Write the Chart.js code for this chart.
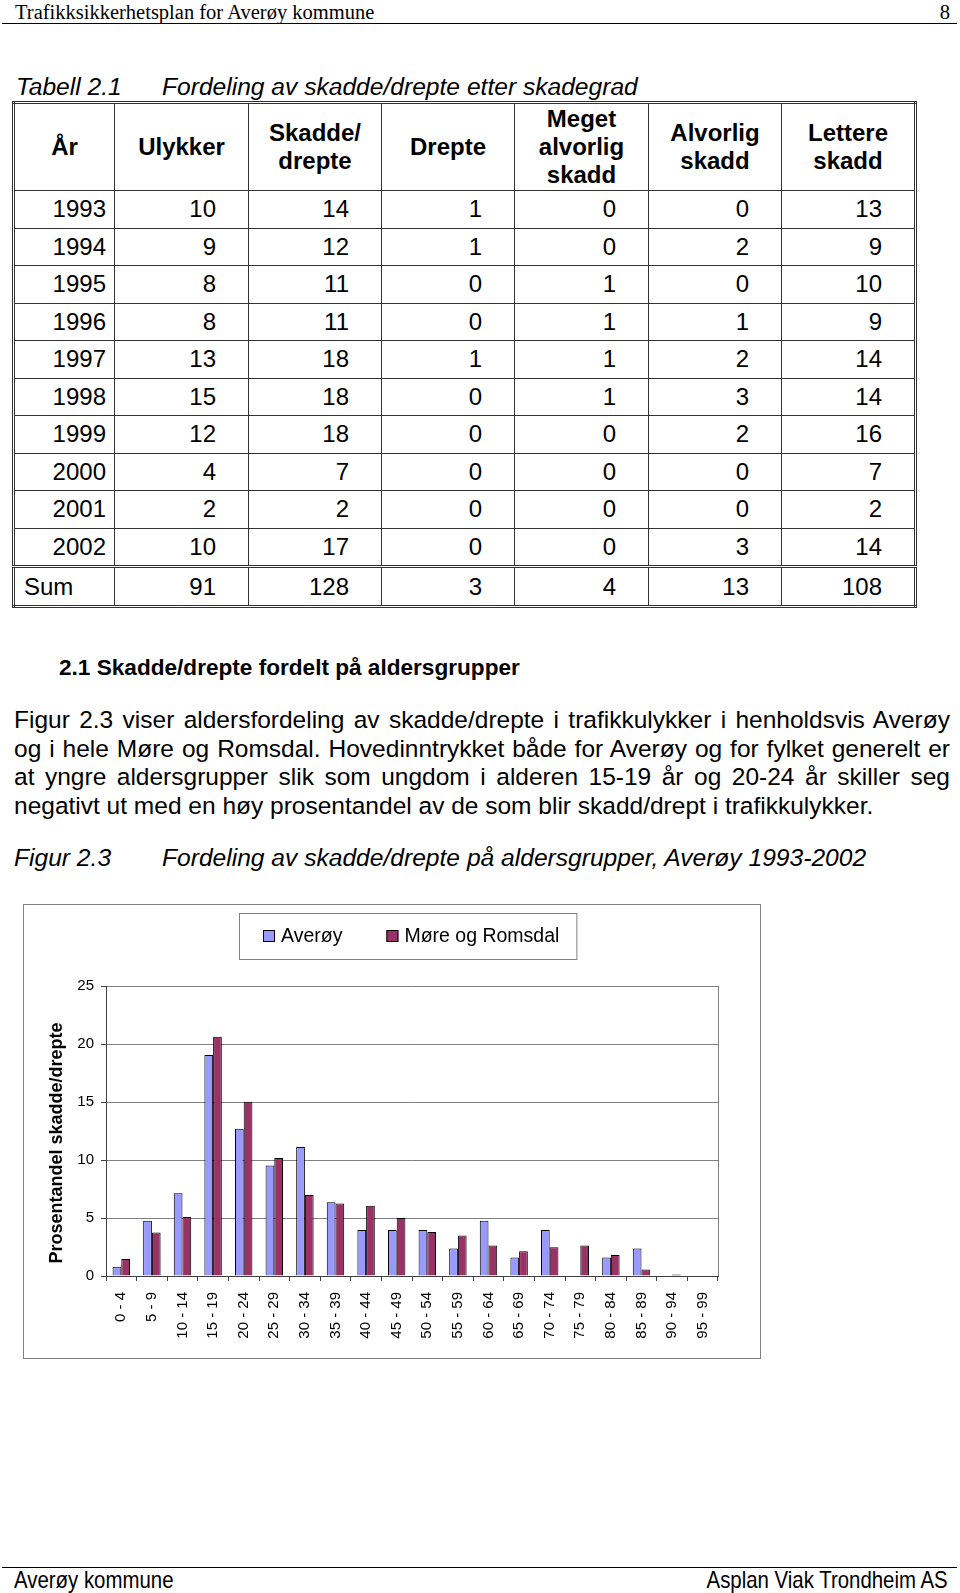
<!DOCTYPE html>
<html lang="no">
<head>
<meta charset="utf-8">
<title>Trafikksikkerhetsplan for Averøy kommune</title>
<script src="https://cdn.jsdelivr.net/npm/chart.js@4/dist/chart.umd.min.js"></script>
<style>
body { margin:0; width:960px; height:1593px; position:relative; background:#fff; color:#000;
       font-family:"Liberation Sans", Arial, sans-serif; overflow:hidden; }
.abs { position:absolute; white-space:nowrap; }
.rule { position:absolute; left:2px; width:955px; height:0; border-top:1.5px solid #000; }
.times { font-family:"Liberation Serif", "Times New Roman", serif; font-size:20.5px; line-height:24px; }
.cap { font-size:24.6px; line-height:28px; font-style:italic; }
.para { position:absolute; left:14px; width:936px; top:706px; font-size:24.5px; line-height:28.6px; }
.para div { text-align:justify; text-align-last:justify; white-space:nowrap; }
.para div.last { text-align-last:left; }
#tbl { position:absolute; left:12px; top:101px; width:902px; border-collapse:collapse; table-layout:fixed;
       border:3px double #333; font-size:24px; }
#tbl th { font-weight:bold; height:86px; line-height:28px; text-align:center; border:1px solid #333; padding:0; }
#tbl td { height:36.5px; line-height:28px; text-align:right; padding:0 32px 0 0; border:1px solid #333; }
#tbl td:first-child { padding-right:8px; }
#tbl tr.sum td { border-top:3px double #333; height:37px; }
#tbl tr.sum td.l { text-align:left; padding-left:9px; }
#chartBox { position:absolute; left:23px; top:904px; width:738px; height:455px; box-sizing:border-box;
            border:1px solid #808080; }
#chart { position:absolute; left:0; top:0; }
.narrow { font-size:24px; line-height:28px; display:inline-block; transform:scaleX(0.85); }
</style>
</head>
<body>

<div class="abs times" style="left:15px; top:0;">Trafikksikkerhetsplan for Averøy kommune</div>
<div class="abs times" style="right:10px; top:0;">8</div>
<div class="rule" style="top:23px;"></div>

<div class="abs cap" style="left:16px; top:73px;">Tabell 2.1</div>
<div class="abs cap" style="left:162px; top:73px;">Fordeling av skadde/drepte etter skadegrad</div>

<table id="tbl">
  <colgroup>
    <col style="width:101px"><col style="width:134px"><col style="width:133px"><col style="width:133px">
    <col style="width:134px"><col style="width:133px"><col style="width:134px">
  </colgroup>
  <tr><th>År</th><th>Ulykker</th><th>Skadde/<br>drepte</th><th>Drepte</th><th>Meget<br>alvorlig<br>skadd</th><th>Alvorlig<br>skadd</th><th>Lettere<br>skadd</th></tr>
  <tr><td>1993</td><td>10</td><td>14</td><td>1</td><td>0</td><td>0</td><td>13</td></tr>
  <tr><td>1994</td><td>9</td><td>12</td><td>1</td><td>0</td><td>2</td><td>9</td></tr>
  <tr><td>1995</td><td>8</td><td>11</td><td>0</td><td>1</td><td>0</td><td>10</td></tr>
  <tr><td>1996</td><td>8</td><td>11</td><td>0</td><td>1</td><td>1</td><td>9</td></tr>
  <tr><td>1997</td><td>13</td><td>18</td><td>1</td><td>1</td><td>2</td><td>14</td></tr>
  <tr><td>1998</td><td>15</td><td>18</td><td>0</td><td>1</td><td>3</td><td>14</td></tr>
  <tr><td>1999</td><td>12</td><td>18</td><td>0</td><td>0</td><td>2</td><td>16</td></tr>
  <tr><td>2000</td><td>4</td><td>7</td><td>0</td><td>0</td><td>0</td><td>7</td></tr>
  <tr><td>2001</td><td>2</td><td>2</td><td>0</td><td>0</td><td>0</td><td>2</td></tr>
  <tr><td>2002</td><td>10</td><td>17</td><td>0</td><td>0</td><td>3</td><td>14</td></tr>
  <tr class="sum"><td class="l">Sum</td><td>91</td><td>128</td><td>3</td><td>4</td><td>13</td><td>108</td></tr>
</table>

<div class="abs" style="left:59px; top:655px; font-size:22.6px; line-height:26px; font-weight:bold;">2.1 Skadde/drepte fordelt på aldersgrupper</div>

<div class="para">
  <div>Figur 2.3 viser aldersfordeling av skadde/drepte i trafikkulykker i henholdsvis Averøy</div>
  <div>og i hele Møre og Romsdal. Hovedinntrykket både for Averøy og for fylket generelt er</div>
  <div>at yngre aldersgrupper slik som ungdom i alderen 15-19 år og 20-24 år skiller seg</div>
  <div class="last">negativt ut med en høy prosentandel av de som blir skadd/drept i trafikkulykker.</div>
</div>

<div class="abs cap" style="left:14px; top:844px;">Figur 2.3</div>
<div class="abs cap" style="left:162px; top:844px;">Fordeling av skadde/drepte på aldersgrupper, Averøy 1993-2002</div>

<div id="chartBox"><canvas id="chart" width="736" height="453"></canvas></div>

<div class="rule" style="top:1567px;"></div>
<div class="abs" style="left:14px; top:1566px;"><span class="narrow" style="transform-origin:left center;">Averøy kommune</span></div>
<div class="abs" style="right:12px; top:1566px;"><span class="narrow" style="transform-origin:right center;">Asplan Viak Trondheim AS</span></div>

<script>
'use strict'

// aldersgrupper og prosentandeler lest av figuren
var ageGroups = ['0 - 4', '5 - 9', '10 - 14', '15 - 19', '20 - 24', '25 - 29', '30 - 34', '35 - 39', '40 - 44', '45 - 49',
                 '50 - 54', '55 - 59', '60 - 64', '65 - 69', '70 - 74', '75 - 79', '80 - 84', '85 - 89', '90 - 94', '95 - 99'];
var averoy = [0.79, 4.76, 7.14, 19.05, 12.7, 9.52, 11.11, 6.35, 3.97, 3.97,
              3.97, 2.38, 4.76, 1.59, 3.97, 0, 1.59, 2.38, 0, 0];
var moreRomsdal = [1.47, 3.74, 5.09, 20.63, 15.03, 10.17, 6.98, 6.26, 6.06, 5.0,
                   3.79, 3.5, 2.64, 2.13, 2.47, 2.64, 1.81, 0.57, 0.14, 0];
var seriesNames = ['Averøy', 'Møre og Romsdal'];
var seriesColors = ['#9999FF', '#993366'];
var yTicks = [0, 5, 10, 15, 20, 25];
var yTitle = 'Prosentandel skadde/drepte';

Chart.defaults.font.family = '"Liberation Sans", Arial, sans-serif';
Chart.defaults.color = '#000';

// forklaring med ramme, som i Excel
var boxLegend = {
	id: 'boxLegend',
	afterDraw: function (chart) {
		var ctx = chart.ctx,
			left = 215, top = 8, height = 46,
			x = left + 24, mid = top + height / 2;
		ctx.save();
		ctx.font = '19.5px "Liberation Sans", Arial, sans-serif';
		ctx.textBaseline = 'middle';
		ctx.lineWidth = 1;
		chart.data.datasets.forEach(function (ds) {
			ctx.fillStyle = ds.backgroundColor;
			ctx.fillRect(x, mid - 6, 12, 12);
			ctx.strokeStyle = '#000';
			ctx.strokeRect(x + 0.5, mid - 5.5, 11, 11);
			ctx.fillStyle = '#000';
			ctx.fillText(ds.label, x + 18, mid + 1);
			x += 18 + ctx.measureText(ds.label).width + 44;
		});
		ctx.strokeStyle = '#808080';
		ctx.strokeRect(left + 0.5, top + 0.5, x - 44 + 17 - left, height);
		ctx.restore();
	}
};

// høyre kant av plottområdet og aksetittel (litt lavere enn midten)
var plotFrame = {
	id: 'plotFrame',
	beforeDatasetsDraw: function (chart) {
		var a = chart.chartArea, ctx = chart.ctx, rx = Math.round(a.right) + 0.5;
		ctx.save();
		ctx.strokeStyle = '#808080';
		ctx.lineWidth = 1;
		ctx.beginPath();
		ctx.moveTo(rx, a.top);
		ctx.lineTo(rx, a.bottom);
		ctx.stroke();
		ctx.translate(33, (a.top + a.bottom) / 2 + 12);
		ctx.rotate(-Math.PI / 2);
		ctx.font = 'bold 18px "Liberation Sans", Arial, sans-serif';
		ctx.textAlign = 'center';
		ctx.textBaseline = 'middle';
		ctx.fillStyle = '#000';
		ctx.fillText(yTitle, 0, 0);
		ctx.restore();
	}
};

new Chart(document.getElementById('chart'), {
	type: 'bar',
	data: {
		labels: ageGroups,
		datasets: [
			{ label: seriesNames[0], data: averoy, backgroundColor: seriesColors[0], borderColor: '#000', borderWidth: 1,
			  categoryPercentage: 0.57, barPercentage: 1 },
			{ label: seriesNames[1], data: moreRomsdal, backgroundColor: seriesColors[1], borderColor: '#000', borderWidth: 1,
			  categoryPercentage: 0.57, barPercentage: 1 }
		]
	},
	options: {
		responsive: false,
		animation: false,
		layout: { padding: { top: 81, right: 42, bottom: 0, left: 0 } },
		plugins: { legend: { display: false }, tooltip: { enabled: false } },
		scales: {
			x: {
				grid: { drawOnChartArea: false, drawTicks: true, tickLength: 5, color: '#404040', offset: true },
				border: { color: '#404040', width: 1 },
				ticks: { minRotation: 90, maxRotation: 90, autoSkip: false, padding: 11, font: { size: 15 } },
				afterFit: function (scale) { scale.height = 82; }
			},
			y: {
				min: 0,
				max: 25,
				afterBuildTicks: function (scale) { scale.ticks = yTicks.map(function (v) { return { value: v }; }); },
				grid: { color: '#808080', tickLength: 5, tickColor: '#404040' },
				border: { color: '#404040', width: 1 },
				ticks: { padding: 7, font: { size: 15 } },
				afterFit: function (scale) { scale.width = 82; }
			}
		}
	},
	plugins: [boxLegend, plotFrame]
});
</script>
</body>
</html>
